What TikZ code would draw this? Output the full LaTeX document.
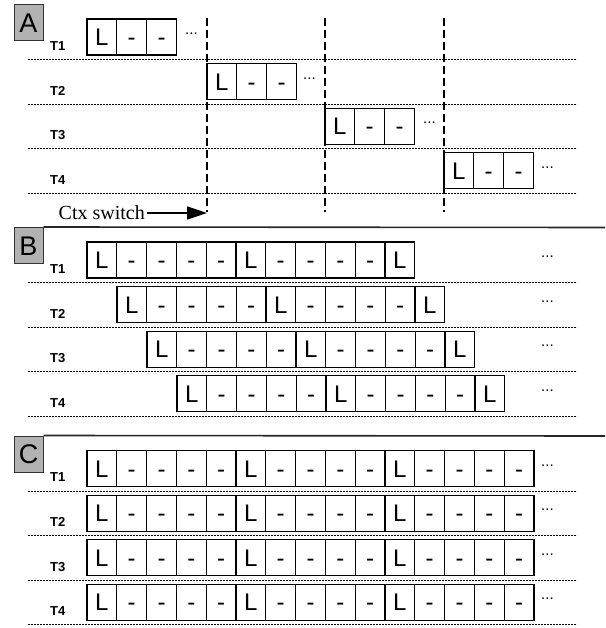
\documentclass[tikz,border=0pt]{standalone}
\usepackage{fontspec}
\setmainfont{Liberation Serif}
\setsansfont{Liberation Sans}
\usetikzlibrary{arrows.meta, positioning}

\tikzset{
  cell/.style={draw, line width=1.1pt, minimum width=29.8pt, minimum height=36pt,
    inner sep=0pt, text height=17.2pt, text depth=0pt,
    font=\sffamily\fontsize{24}{24}\selectfont},
  panelbox/.style={draw=black!80, line width=1pt, fill=black!30, minimum width=29pt,
    minimum height=36pt, inner sep=0pt, text height=19.4pt, text depth=0pt,
    font=\sffamily\fontsize{27}{27}\selectfont},
  tlabel/.style={anchor=west, inner sep=0pt, font=\sffamily\bfseries\fontsize{13}{13}\selectfont},
  moredots/.style={anchor=base west, inner sep=0pt, font=\sffamily\fontsize{15}{15}\selectfont},
  lane/.style={line width=0.8pt, dash pattern=on 2pt off 1pt},
  switchline/.style={line width=2.8pt, dash pattern=on 8pt off 4pt},
  sepline/.style={line width=1.6pt, black!85},
  ctxarrow/.style={line width=1.6pt, -{Triangle[length=20pt, width=13pt]}},
}

\begin{document}
\begin{tikzpicture}[x=1pt, y=-1pt]
    \useasboundingbox (0,0) rectangle (605,628);

    % =================================================================
    % PANEL LABELS AND SEPARATORS
    % =================================================================
    \node[panelbox] (boxA) at (28.5,23) {A};
    \node[panelbox] (boxB) at (28.5,245.5) {B};
    \node[panelbox] (boxC) at (28.5,454) {C};

    \coordinate (sepB) at (605,227.5);
    \coordinate (sepC) at (605,436);
    \draw[sepline] (boxB.north east) -- (sepB);
    \draw[sepline] (boxC.north east) -- (sepC);

    % =================================================================
    % LANES (ONE PER THREAD)
    % =================================================================
    \foreach \p/\base in {A/37, B/260, C/468.5} {
        \foreach \r in {1,...,4} {
            \pgfmathsetmacro\yc{\base+44.6*(\r-1)}
            \node[tlabel] (\p-T\r) at (50,\yc+9) {T\r};
            \coordinate (\p-lane\r-w) at (28,\yc+22.5);
            \coordinate (\p-lane\r-e) at (577,\yc+22.5);
            \draw[lane] (\p-lane\r-w) -- (\p-lane\r-e);
        }
    }

    % =================================================================
    % CONTEXT SWITCH MARKERS (PANEL A)
    % =================================================================
    \foreach \i/\x in {1/207, 2/325, 3/444} {
        \coordinate (sw\i-top) at (\x,18);
        \coordinate (sw\i-bot) at (\x,212);
        \draw[switchline] (sw\i-top) -- (sw\i-bot);
    }

    \node[anchor=east, inner sep=2pt, font=\fontsize{20}{20}\selectfont] (ctx) at (147,213) {Ctx switch};
    \coordinate (ctxtip) at (207,213);
    \draw[ctxarrow] (ctx.east) -- (ctxtip);

    % =================================================================
    % INSTRUCTION SLOTS: panel/row/centre y/start x/count/dots x
    % =================================================================
    \foreach \p/\r/\yc/\xs/\n/\xd in {
        A/1/37/87/3/185, A/2/81.6/207/3/303, A/3/126.2/325/3/423, A/4/170.8/444/3/541,
        B/1/260/87/11/541, B/2/304.6/117/11/541, B/3/349.2/147/11/541, B/4/393.8/177/11/541,
        C/1/468.5/87/15/541, C/2/513.1/87/15/541, C/3/557.7/87/15/541, C/4/602.3/87/15/541} {
        \foreach \k in {1,...,\n} {
            \pgfmathsetmacro\cx{\xs+29.8*(\k-0.5)}
            \pgfmathtruncatemacro\lk{mod(\k-1,5)}
            \ifnum\lk=0 \def\txt{L}\else\def\txt{-}\fi
            \node[cell] (\p\r-\k) at (\cx,\yc) {\txt};
        }
        \node[moredots] (\p\r-dots) at (\xd,\yc-2.5) {...};
    }

\end{tikzpicture}
\end{document}
